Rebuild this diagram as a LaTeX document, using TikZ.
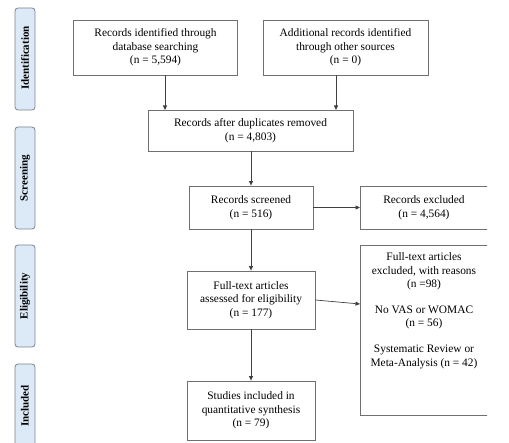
\documentclass[tikz,border=0pt]{standalone}
\usepackage{fontspec}
\setmainfont{Liberation Serif}
\usetikzlibrary{arrows.meta,positioning}
\definecolor{boxline}{HTML}{707070}
\definecolor{sidefill}{HTML}{DCE9F6}
\definecolor{sideline}{HTML}{7A8590}
\begin{document}
\begin{tikzpicture}[x=1pt,y=-1pt,
  flowbox/.style={draw=boxline, line width=0.8pt, fill=white, inner sep=0pt,
    align=center, font=\fontsize{11.4}{13.6}\selectfont},
  freetext/.style={align=center, font=\fontsize{11.4}{13.6}\selectfont},
  sidebox/.style={draw=sideline, line width=0.8pt, fill=sidefill, rounded corners=3pt},
  sidetext/.style={font=\bfseries\fontsize{11}{12}\selectfont, rotate=90},
  arr/.style={draw=black!75, line width=0.7pt, -{Triangle[length=4.5pt,width=4pt]}}]
\useasboundingbox (0,0) rectangle (509,443);
\begin{scope}
\clip (0,0) rectangle (487,443);
% side labels
\draw[sidebox] (15,8) rectangle (35,110);
\node[sidetext] (lid) at (25,58) {Identification};
\draw[sidebox] (15,127) rectangle (35,229);
\node[sidetext] (lsc) at (25,178) {Screening};
\draw[sidebox] (15,245) rectangle (35,347);
\node[sidetext] (lel) at (25,296) {Eligibility};
\draw[sidebox] (15,364) rectangle (35,470);
\node[sidetext] (lin) at (25,406) {Included};
% boxes
\node[flowbox, minimum width=164pt, minimum height=55pt] (db) at (155.5,47.5)
  {Records identified through\\database searching\\(n = 5,594)};
\node[flowbox, minimum width=165pt, minimum height=55pt] (add) at (345.5,47.5)
  {Additional records identified\\through other sources\\(n = 0)};
\node[flowbox, minimum width=205pt, minimum height=41pt] (dup) at (250.5,130.5)
  {Records after duplicates removed\\(n = 4,803)};
\node[flowbox, minimum width=124pt, minimum height=43pt] (scr) at (251,207.5)
  {Records screened\\(n = 516)};
\node[flowbox, minimum width=140pt, minimum height=43pt, anchor=west] (exc) at (360,207.5) {};
\node[freetext] (exct) at (424,207.5)
  {Records excluded\\(n = 4,564)};
\node[flowbox, minimum width=128pt, minimum height=58pt] (ass) at (251,300)
  {Full-text articles\\assessed for eligibility\\(n = 177)};
\node[flowbox, minimum width=140pt, minimum height=170pt, anchor=north west] (ftx) at (360,245) {};
\node[freetext, anchor=north] (ftxt) at (424,249)
  {Full-text articles\\excluded, with reasons\\(n =98)\\[12pt]No VAS or WOMAC\\(n = 56)\\[12pt]Systematic Review or\\Meta-Analysis (n = 42)};
\node[flowbox, minimum width=128pt, minimum height=59pt] (inc) at (251,410.5)
  {Studies included in\\quantitative synthesis\\(n = 79)};
\end{scope}
% arrows
\coordinate (dbin) at (165,110);
\coordinate (addin) at (336,110);
\coordinate (ftxin) at (360,304);
\draw[arr] (db.south -| dbin) -- (dbin);
\draw[arr] (add.south -| addin) -- (addin);
\draw[arr] (dup.south -| scr.north) -- (scr.north);
\draw[arr] (scr.east) -- (exc.west);
\draw[arr] (scr.south) -- (ass.north);
\draw[arr] (ass.east) -- (ftxin);
\draw[arr] (ass.south) -- (inc.north);
\end{tikzpicture}
\end{document}
